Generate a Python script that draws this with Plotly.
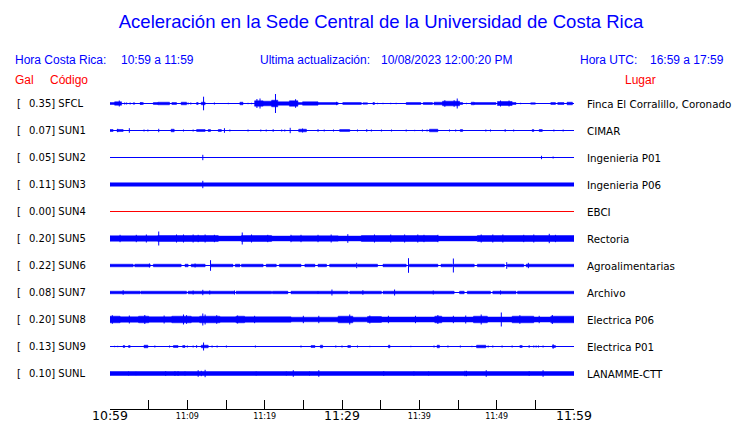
import plotly.graph_objects as go

# ---------------- data ----------------
codes = ["SFCL", "SUN1", "SUN2", "SUN3", "SUN4", "SUN5", "SUN6", "SUN7", "SUN8", "SUN9", "SUNL"]
peaks = ["0.35", "0.07", "0.05", "0.11", "0.00", "0.20", "0.22", "0.08", "0.20", "0.13", "0.10"]
places = ["Finca El Corralillo, Coronado", "CIMAR", "Ingenieria P01", "Ingenieria P06", "EBCI",
          "Rectoria", "Agroalimentarias", "Archivo", "Electrica P06", "Electrica P01", "LANAMME-CTT"]

# x axis: minutes after 10:59
tick_minutes = [0, 5, 10, 15, 20, 25, 30, 35, 40, 45, 50, 55, 60]
small_tick_text = ["", "", "11:09", "", "11:19", "", "", "", "11:39", "", "11:49", "", ""]
big_tick_minutes = [0, 30, 60]
big_tick_text = ["10:59", "11:29", "11:59"]

# bursts: [start_min, end_min, half amplitude (counts)]; spikes: [min, half amplitude]
sfcl_bursts = [[0.0, 0.6, 1.0], [0.6, 1.5, 1.7], [3.0, 3.2, 0.7], [3.9, 4.3, 1.0], [5.6, 6.2, 1.0],
               [6.2, 7.7, 1.3], [8.0, 8.6, 1.0], [9.2, 9.9, 1.3], [11.2, 11.4, 1.0], [11.8, 12.3, 1.3],
               [16.8, 17.2, 1.3], [18.7, 19.8, 2.7], [19.8, 20.9, 2.3], [20.9, 21.7, 3.3], [21.7, 23.2, 1.7],
               [23.2, 24.3, 2.7], [24.3, 24.9, 1.0], [24.9, 26.9, 1.7], [26.9, 29.5, 1.0], [30.1, 32.5, 1.0],
               [32.7, 33.3, 0.7], [34.0, 34.2, 1.0], [38.3, 40.2, 1.0], [40.5, 41.7, 1.0], [41.9, 43.0, 1.3],
               [43.0, 45.2, 2.3], [45.2, 45.6, 1.0], [46.7, 47.1, 1.3], [47.1, 49.9, 1.0], [50.1, 52.0, 2.0],
               [52.0, 52.5, 1.0], [54.4, 55.0, 0.7], [57.0, 57.6, 1.0], [57.9, 58.7, 1.0], [59.1, 59.8, 1.3]]
sfcl_spikes = [[1.2, 3.0], [1.9, 1.0], [2.15, 1.0], [2.6, 1.0], [4.0, 1.3], [10.1, 1.0], [10.45, 1.0],
               [12.1, 6.8], [13.5, 1.0], [15.3, 0.7], [17.85, 0.7], [18.3, 0.7], [19.0, 4.5], [19.4, 5.0],
               [21.4, 9.5], [24.0, 4.3], [29.3, 1.7], [34.6, 0.7], [35.3, 0.7], [36.3, 0.7], [37.0, 0.7],
               [43.3, 3.3], [44.5, 3.3], [44.9, 5.0], [46.1, 0.7], [50.5, 3.0], [51.6, 3.0], [53.1, 0.7]]

sun1_bursts = [[0.0, 0.4, 1.0], [0.9, 1.7, 1.0], [7.9, 8.3, 1.3], [11.2, 12.3, 1.0], [12.7, 13.0, 1.0],
               [14.0, 14.4, 1.0], [24.4, 25.4, 1.3], [29.7, 31.0, 1.0], [41.3, 42.4, 1.3], [45.3, 45.6, 1.0],
               [54.6, 54.8, 1.0], [55.5, 55.9, 1.0]]
sun1_spikes = [[1.0, 1.7], [2.5, 2.3], [4.4, 1.0], [4.9, 1.0], [6.3, 1.7], [9.5, 1.0], [10.75, 1.0],
               [14.8, 2.3], [15.5, 1.0], [17.85, 1.0], [19.5, 1.0], [20.2, 1.0], [21.1, 1.3], [22.2, 1.0],
               [22.6, 1.0], [23.3, 2.7], [24.9, 2.0], [26.9, 1.3], [27.7, 1.0], [28.9, 1.0], [32.0, 1.0],
               [33.2, 1.3], [33.8, 1.0], [35.1, 1.0], [36.4, 1.0], [38.3, 1.0], [39.4, 0.7], [40.4, 1.0],
               [41.0, 1.0], [43.9, 1.0], [44.7, 1.0], [48.6, 1.0], [49.2, 1.0], [51.1, 1.3], [52.2, 1.0],
               [57.4, 1.0], [58.6, 1.0]]

sun2_bursts = []
sun2_spikes = [[12.0, 2.7], [55.8, 1.7], [57.3, 1.0]]

sun3_bursts = [[0.0, 60.0, 1.7]]
sun3_spikes = [[12.0, 3.7]]

sun4_bursts = []
sun4_spikes = []

sun5_bursts = [[0.0, 6.2, 2.7], [6.2, 14.0, 3.0], [14.0, 17.0, 2.4], [17.0, 20.9, 3.0], [20.9, 23.4, 2.4],
               [23.4, 29.5, 2.7], [29.5, 32.5, 2.4], [32.5, 42.4, 3.0], [42.4, 47.5, 2.4], [47.5, 60.0, 3.0]]
sun5_spikes = [[6.3, 7.0], [17.1, 6.0], [1.3, 3.7], [3.4, 3.7], [4.7, 4.0], [8.6, 4.0], [9.5, 4.0],
               [10.75, 4.0], [11.4, 3.7], [12.3, 4.0], [13.5, 3.7], [18.3, 4.0], [20.4, 3.7], [23.4, 3.7],
               [24.7, 3.7], [26.9, 3.7], [28.6, 4.0], [30.75, 4.3], [34.2, 4.0], [36.3, 4.0], [38.1, 4.0],
               [39.8, 4.0], [40.6, 3.7], [42.4, 3.7], [48.0, 4.0], [49.5, 4.0], [50.8, 4.0], [53.5, 3.7],
               [54.8, 4.0], [56.8, 4.7], [57.6, 3.7]]

sun6_bursts = [[0.0, 3.0, 1.3], [3.2, 5.2, 1.3], [5.6, 9.2, 1.3], [9.7, 10.1, 1.3], [10.5, 12.3, 1.3],
               [13.0, 15.9, 1.3], [16.2, 16.8, 1.3], [17.0, 19.8, 1.3], [20.2, 21.5, 1.3], [21.9, 24.7, 1.3],
               [25.2, 26.5, 1.3], [26.9, 28.0, 1.3], [28.4, 31.8, 1.3], [32.0, 34.6, 1.3], [35.3, 38.3, 1.3],
               [38.7, 42.4, 1.3], [42.8, 44.3, 1.3], [44.5, 47.1, 1.3], [47.5, 51.0, 1.3], [51.4, 53.5, 1.3],
               [53.8, 60.0, 1.3]]
sun6_spikes = [[5.1, 2.0], [11.0, 2.0], [13.0, 5.3], [31.9, 2.7], [38.6, 7.3], [44.4, 7.0], [51.3, 3.3],
               [54.1, 2.7]]

sun7_bursts = [[0.0, 3.9, 1.3], [4.0, 9.9, 1.3], [10.1, 16.1, 1.3], [16.3, 20.9, 1.3], [21.0, 23.0, 1.3],
               [23.4, 26.9, 1.3], [26.9, 30.8, 1.3], [31.0, 35.1, 1.3], [35.3, 44.5, 1.3], [45.2, 45.8, 1.3],
               [46.2, 49.2, 1.3], [49.5, 52.5, 1.3], [52.7, 60.0, 1.3]]
sun7_spikes = [[1.7, 2.3], [10.75, 2.0], [12.0, 2.7], [12.9, 2.0], [16.1, 2.0], [28.7, 3.0], [32.7, 2.3],
               [36.8, 3.0], [41.8, 2.0], [50.5, 2.0]]

sun8_bursts = [[0.0, 1.3, 3.3], [1.3, 3.7, 2.7], [3.7, 5.0, 3.3], [5.0, 8.0, 2.7], [8.0, 10.5, 3.3],
               [10.5, 11.6, 2.7], [11.6, 14.2, 3.3], [14.2, 16.3, 2.7], [16.3, 17.4, 3.3], [17.4, 23.4, 2.7],
               [23.4, 29.5, 2.3], [29.5, 31.4, 3.3], [31.4, 33.3, 2.3], [33.3, 35.1, 3.0], [35.1, 42.0, 2.5],
               [42.0, 42.9, 3.3], [42.9, 47.0, 2.5], [47.0, 48.8, 3.3], [48.8, 52.0, 2.5], [52.0, 54.8, 3.3],
               [54.8, 57.0, 2.5], [57.0, 60.0, 3.3]]
sun8_spikes = [[4.5, 4.5], [9.5, 5.0], [9.9, 4.3], [12.0, 6.0], [12.3, 5.0], [31.0, 5.0], [42.4, 4.5],
               [48.0, 5.0], [50.6, 7.0], [57.2, 4.5], [0.3, 4.3], [2.5, 4.0], [7.0, 4.0], [13.8, 4.3],
               [16.5, 4.0], [18.7, 3.7], [25.0, 3.7], [27.0, 3.7], [33.6, 4.0], [36.0, 3.7], [39.5, 3.7],
               [44.4, 3.7], [46.0, 4.0], [53.0, 4.3], [55.5, 3.7]]

sun9_bursts = [[1.7, 1.9, 1.0], [2.4, 2.6, 1.0], [4.4, 4.9, 1.3], [8.2, 8.8, 1.0], [9.4, 9.7, 1.0],
               [11.8, 12.7, 1.3], [26.0, 26.5, 1.0], [27.2, 27.5, 1.3], [30.75, 31.1, 1.0], [36.0, 36.2, 1.3],
               [42.3, 42.6, 1.3], [47.4, 48.6, 1.3], [53.0, 53.3, 1.0], [57.2, 57.6, 1.0]]
sun9_spikes = [[0.6, 0.7], [1.0, 0.7], [5.8, 1.0], [7.7, 1.0], [10.0, 1.0], [10.75, 1.0], [11.2, 1.3],
               [12.1, 4.0], [13.2, 1.0], [13.85, 1.0], [15.05, 1.0], [18.8, 1.0], [24.7, 1.0], [29.2, 1.0],
               [30.0, 1.0], [32.0, 1.0], [33.6, 0.7], [38.9, 0.7], [41.9, 1.0], [43.7, 1.0], [45.3, 1.0],
               [46.8, 0.7], [48.9, 1.0], [49.5, 1.0], [50.7, 1.0], [52.0, 1.0], [54.2, 1.3], [54.8, 1.0],
               [55.1, 1.0], [55.4, 1.0], [56.0, 1.0], [57.3, 2.3]]

sunl_bursts = [[0.0, 60.0, 2.0]]
sunl_spikes = [[2.4, 2.0], [3.35, 1.7], [7.2, 2.3], [8.4, 2.3], [8.8, 2.3], [9.7, 2.0], [11.4, 3.3],
               [11.8, 2.7], [12.3, 3.7], [18.9, 2.0], [22.8, 2.0], [23.7, 3.3], [25.8, 2.0], [27.0, 3.3],
               [35.4, 2.3], [39.3, 2.0], [41.2, 2.0], [45.9, 2.7], [46.1, 2.7], [48.65, 3.3], [54.2, 2.3],
               [56.0, 3.3]]

all_bursts = [sfcl_bursts, sun1_bursts, sun2_bursts, sun3_bursts, sun4_bursts, sun5_bursts,
              sun6_bursts, sun7_bursts, sun8_bursts, sun9_bursts, sunl_bursts]
all_spikes = [sfcl_spikes, sun1_spikes, sun2_spikes, sun3_spikes, sun4_spikes, sun5_spikes,
              sun6_spikes, sun7_spikes, sun8_spikes, sun9_spikes, sunl_spikes]
trace_colors = ["#0000ff"] * 4 + ["#ff0000"] + ["#0000ff"] * 6

# ---------------- figure ----------------
SPACING = 27
BLUE = "#0000ff"
RED = "#ff0000"
HDR_FONT = "Liberation Sans, Arial, sans-serif"
LBL_FONT = "DejaVu Sans, sans-serif"

# the page body has an 8px margin: figure is drawn at (8, 8) in the window
PAGE_OFF = 8
FIG_W, FIG_H = 740 - PAGE_OFF, 423 - PAGE_OFF
# plot area in window pixels
PLOT_L, PLOT_W = 110, 464
PLOT_B, PLOT_H = 409, 319
PLOT_T = PLOT_B - PLOT_H

fig = go.Figure()

for i, code in enumerate(codes):
    base = -SPACING * i
    col = trace_colors[i]
    fig.add_trace(go.Scatter(x=[0, 60], y=[base, base], mode="lines",
                             line=dict(color=col, width=1), hoverinfo="skip"))
    bx, by = [], []
    for t0, t1, a in all_bursts[i]:
        bx += [t0, t1, t1, t0, t0, None]
        by += [base - a, base - a, base + a, base + a, base - a, None]
    if bx:
        fig.add_trace(go.Scatter(x=bx, y=by, mode="lines", fill="toself", fillcolor=col,
                                 line=dict(color=col, width=0.5), hoverinfo="skip"))
    sx, sy = [], []
    for t, a in all_spikes[i]:
        sx += [t, t, None]
        sy += [base - a, base + a, None]
    if sx:
        fig.add_trace(go.Scatter(x=sx, y=sy, mode="lines",
                                 line=dict(color=col, width=1), hoverinfo="skip"))

fig.add_trace(go.Scatter(x=[0, 60], y=[0, 0], xaxis="x2", mode="markers",
                         marker=dict(opacity=0), hoverinfo="skip"))


def px_x(px):
    return (px - PLOT_L) / PLOT_W


def px_y(py):
    return (PLOT_B - py) / PLOT_H


ann = []
for i, code in enumerate(codes):
    base = -SPACING * i
    ann.append(dict(x=px_x(15), y=base, xref="paper", yref="y", xanchor="left", yanchor="middle",
                    text="[", showarrow=False, font=dict(family=LBL_FONT, size=10, color="black")))
    ann.append(dict(x=px_x(27), y=base, xref="paper", yref="y", xanchor="left", yanchor="middle",
                    text=f"{peaks[i]}] {code}", showarrow=False,
                    font=dict(family=LBL_FONT, size=10, color="black")))
    ann.append(dict(x=px_x(585), y=base, xref="paper", yref="y", xanchor="left", yanchor="middle",
                    text=places[i], showarrow=False,
                    font=dict(family=LBL_FONT, size=10.3, color="black")))

hdr = [
    ("Hora Costa Rica:", 13, 60, BLUE),
    ("10:59 a 11:59", 119, 60, BLUE),
    ("Ultima actualización:", 258, 60, BLUE),
    ("10/08/2023 12:00:20 PM", 379, 60, BLUE),
    ("Hora UTC:", 578, 60, BLUE),
    ("16:59 a 17:59", 648, 60, BLUE),
    ("Gal", 13, 80, RED),
    ("Código", 48, 80, RED),
    ("Lugar", 623, 80, RED),
]
for txt, x, y, c in hdr:
    ann.append(dict(x=px_x(x), y=px_y(y), xref="paper", yref="paper", xanchor="left",
                    yanchor="middle", text=txt, showarrow=False,
                    font=dict(family=HDR_FONT, size=12, color=c)))

fig.update_layout(
    width=FIG_W, height=FIG_H,
    margin=dict(l=PLOT_L - PAGE_OFF, r=FIG_W - (PLOT_L - PAGE_OFF) - PLOT_W,
                t=PLOT_T - PAGE_OFF, b=FIG_H - (PLOT_B - PAGE_OFF), pad=0, autoexpand=False),
    paper_bgcolor="white", plot_bgcolor="white",
    showlegend=False,
    title=dict(text="Aceleración en la Sede Central de la Universidad de Costa Rica",
               x=(381 - PAGE_OFF) / FIG_W, xanchor="center",
               y=1 - (22 - PAGE_OFF) / FIG_H, yanchor="middle",
               font=dict(family=HDR_FONT, size=18.5, color=BLUE)),
    xaxis=dict(range=[0, 60], tickmode="array", tickvals=tick_minutes, ticktext=small_tick_text,
               ticks="inside", ticklen=9, tickwidth=1, tickcolor="black", automargin=False,
               showline=True, linecolor="black", linewidth=1, showgrid=False, zeroline=False,
               ticklabelstandoff=-1,
               tickfont=dict(family=LBL_FONT, size=8, color="black")),
    xaxis2=dict(range=[0, 60], overlaying="x", anchor="y", side="bottom", tickmode="array",
                tickvals=big_tick_minutes, ticktext=big_tick_text, ticks="", showline=False,
                showgrid=False, zeroline=False, automargin=False, ticklabelstandoff=-3,
                tickfont=dict(family=LBL_FONT, size=12.5, color="black")),
    yaxis=dict(range=[13.5 - PLOT_H, 13.5], visible=False, showgrid=False, zeroline=False,
               automargin=False),
    annotations=ann,
)

fig.write_html("out.html")
